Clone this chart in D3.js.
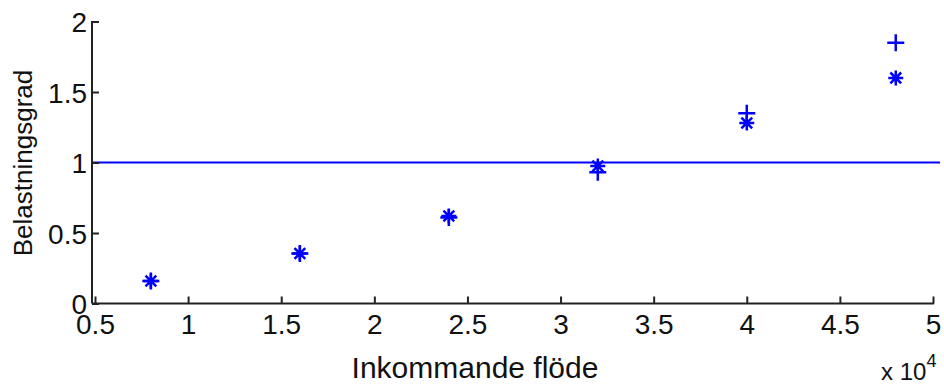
<!DOCTYPE html>
<html>
<head>
<meta charset="utf-8">
<script src="https://cdn.jsdelivr.net/npm/d3@7"></script>
<style>
body { margin: 0; background: #fff; }
text { font-family: "Liberation Sans", Arial, sans-serif; }
</style>
</head>
<body>
<svg id="chart"></svg>
<script>
// flow in units of 10^4
var flows = [0.8, 1.6, 2.4, 3.2, 4.0, 4.8];
var plusVals = [0.16, 0.355, 0.61, 0.93, 1.35, 1.85];
var starVals = [0.16, 0.355, 0.62, 0.975, 1.28, 1.60];
var xTicks = [0.5, 1, 1.5, 2, 2.5, 3, 3.5, 4, 4.5, 5];
var yTicks = [0, 0.5, 1, 1.5, 2];
var refLevel = 1;

var width = 944;
var height = 385;

var svg = d3.select("#chart").attr("width", width).attr("height", height);

var x = d3.scaleLinear().domain([0.5, 5]).range([95, 933]);
var y = d3.scaleLinear().domain([0, 2]).range([303.5, 21.5]);

var blue = "#0000ff";

// reference line at 1
svg.append("line")
    .attr("x1", 92).attr("x2", 940)
    .attr("y1", y(refLevel)).attr("y2", y(refLevel))
    .attr("stroke", blue)
    .attr("stroke-width", 2);

// axes (matlab style, ticks inward)
var xAxis = d3.axisBottom(x).tickValues(xTicks).tickSize(-7)
    .tickFormat(function(d) { return d3.format("")(d); });
var yAxis = d3.axisLeft(y).tickValues(yTicks).tickSize(-7).tickPadding(5)
    .tickFormat(function(d) { return d3.format("")(d); });

var gx = svg.append("g").attr("transform", "translate(0," + 303.5 + ")").call(xAxis);
var gy = svg.append("g").attr("transform", "translate(" + 92 + ",0)").call(yAxis);

gx.select(".domain").attr("d", "M92,0H934");
gy.select(".domain").attr("d", "M0,303.5V21");

[gx, gy].forEach(function(g) {
    g.selectAll(".domain").attr("stroke", "#222").attr("stroke-width", 2);
    g.selectAll(".tick line").attr("stroke", "#222").attr("stroke-width", 2);
    g.selectAll(".tick text")
        .attr("fill", "#111")
        .style("font-size", "28px");
});
gy.selectAll(".tick text").attr("dy", "0.36em");
gx.selectAll(".tick text").attr("y", 30).attr("dy", 0);

// '+' markers
function plusPath(s) {
    return "M" + (-s) + ",0H" + s + "M0," + (-s) + "V" + s;
}
function starPath(s) {
    var d = s * 0.72;
    return plusPath(s) + "M" + (-d) + "," + (-d) + "L" + d + "," + d +
        "M" + (-d) + "," + d + "L" + d + "," + (-d);
}

svg.append("g").selectAll("path")
    .data(flows)
    .enter().append("path")
    .attr("transform", function(d, i) { return "translate(" + x(d) + "," + y(plusVals[i]) + ")"; })
    .attr("d", plusPath(8.5))
    .attr("fill", "none")
    .attr("stroke", blue)
    .attr("stroke-width", 2.5);

svg.append("g").selectAll("path")
    .data(flows)
    .enter().append("path")
    .attr("transform", function(d, i) { return "translate(" + x(d) + "," + y(starVals[i]) + ")"; })
    .attr("d", starPath(7.5))
    .attr("fill", "none")
    .attr("stroke", blue)
    .attr("stroke-width", 2.5);

// labels
svg.append("text")
    .attr("x", 475).attr("y", 378)
    .attr("text-anchor", "middle")
    .style("font-size", "30px")
    .attr("fill", "#111")
    .text("Inkommande flöde");

svg.append("text")
    .attr("transform", "translate(32,163) rotate(-90)")
    .attr("text-anchor", "middle")
    .style("font-size", "26px")
    .attr("fill", "#111")
    .text("Belastningsgrad");

var mult = svg.append("text")
    .attr("x", 881).attr("y", 380)
    .style("font-size", "24px")
    .attr("fill", "#111");
mult.append("tspan").text("x 10");
mult.append("tspan").attr("dy", -13).style("font-size", "18px").text("4");
</script>
</body>
</html>
